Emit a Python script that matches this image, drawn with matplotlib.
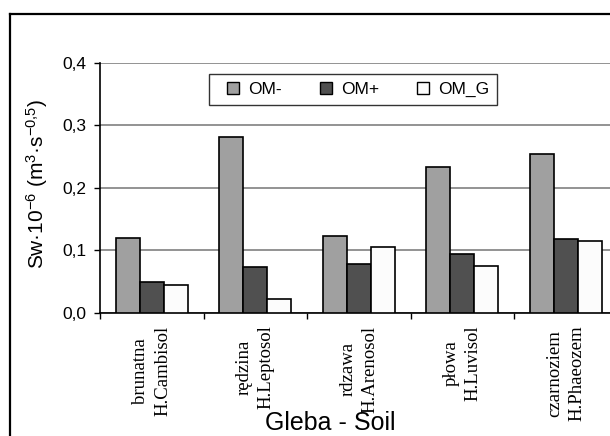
import matplotlib
matplotlib.use("Agg")
import matplotlib.pyplot as plt
import numpy as np
from matplotlib.lines import Line2D

plt.rcParams['font.family'] = ['Liberation Sans', 'DejaVu Sans']
plt.rcParams['mathtext.fontset'] = 'custom'
plt.rcParams['mathtext.rm'] = 'Liberation Sans'
plt.rcParams['mathtext.it'] = 'Liberation Sans:italic'

gleby = ["brunatna\nH.Cambisol", "rędzina\nH.Leptosol", "rdzawa\nH.Arenosol",
         "płowa\nH.Luvisol", "czarnoziem\nH.Phaeozem"]
om_minus = [0.120, 0.281, 0.123, 0.233, 0.254]
om_plus = [0.049, 0.073, 0.078, 0.094, 0.118]
om_g = [0.045, 0.022, 0.105, 0.075, 0.115]
serie = ["OM-", "OM+", "OM_G"]
kolory = ["#a0a0a0", "#505050", "#fcfcfc"]
yticks = [0.0, 0.1, 0.2, 0.3, 0.4]

fig = plt.figure(figsize=(6.10, 4.36), dpi=100)
ax = fig.add_axes([100/610, 123/436, 517.5/610, 250.3/436])

x = np.arange(len(gleby))
w = 0.232
for k, (vals, c, lab) in enumerate(zip([om_minus, om_plus, om_g], kolory, serie)):
    ax.bar(x + (k - 1) * w, vals, w, color=c, edgecolor='black', linewidth=1.2,
           zorder=3)

ax.set_xlim(-0.5, len(gleby) - 0.5)
ax.set_ylim(0, 0.4)
ax.set_yticks(yticks)
ax.set_yticklabels([f"{v:.1f}".replace('.', ',') for v in yticks], fontsize=12.5)
ax.yaxis.grid(True, color='#808080', linewidth=1.2, zorder=0)
ax.tick_params(axis='y', direction='out', length=4, width=1, pad=6)

ax.set_xticks(x)
ax.set_xticklabels(gleby, rotation=90, ha='center', va='top', fontsize=13.5,
                   family='Liberation Serif', linespacing=1.35)
ax.tick_params(axis='x', length=0, pad=9)
ax.set_xticks(np.arange(-0.5, len(gleby)), minor=True)
ax.tick_params(axis='x', which='minor', direction='out', length=4, width=1)

for s in ['top', 'right']:
    ax.spines[s].set_visible(False)
for s in ['left', 'bottom']:
    ax.spines[s].set_linewidth(1.2)
ax.set_axisbelow(True)

# kwadratowe znaczniki legendy
uchwyty = [Line2D([], [], linestyle='none', marker='s', markersize=8,
                  markerfacecolor=c, markeredgecolor='black', markeredgewidth=1.0)
           for c in kolory]
leg = ax.legend(uchwyty, serie, ncol=3, loc='upper left',
                bbox_to_anchor=(109/517.5, 1 - 11.5/250.3),
                fontsize=12.5, frameon=True, fancybox=False, handlelength=1.9,
                handletextpad=-0.1, columnspacing=1.6,
                borderpad=0.45, borderaxespad=0)
leg.get_frame().set_edgecolor('black')
leg.get_frame().set_linewidth(1.0)

fig.text(37/610, 1 - 184/436, 'Sw·10$^{-6}$ (m$^{3}$·s$^{-0{,}5}$)', rotation=90,
         ha='center', va='center', fontsize=15)
fig.text(330/610, 1 - 423/436, 'Gleba - Soil', ha='center', va='center', fontsize=18)

# ramka wokol wykresu
fig.add_artist(Line2D([10/610, 10/610], [0, 1 - 14/436], transform=fig.transFigure,
                      color='black', linewidth=1.6))
fig.add_artist(Line2D([10/610, 1], [1 - 14/436, 1 - 14/436], transform=fig.transFigure,
                      color='black', linewidth=1.6))

fig.savefig("out.png", dpi=100)
